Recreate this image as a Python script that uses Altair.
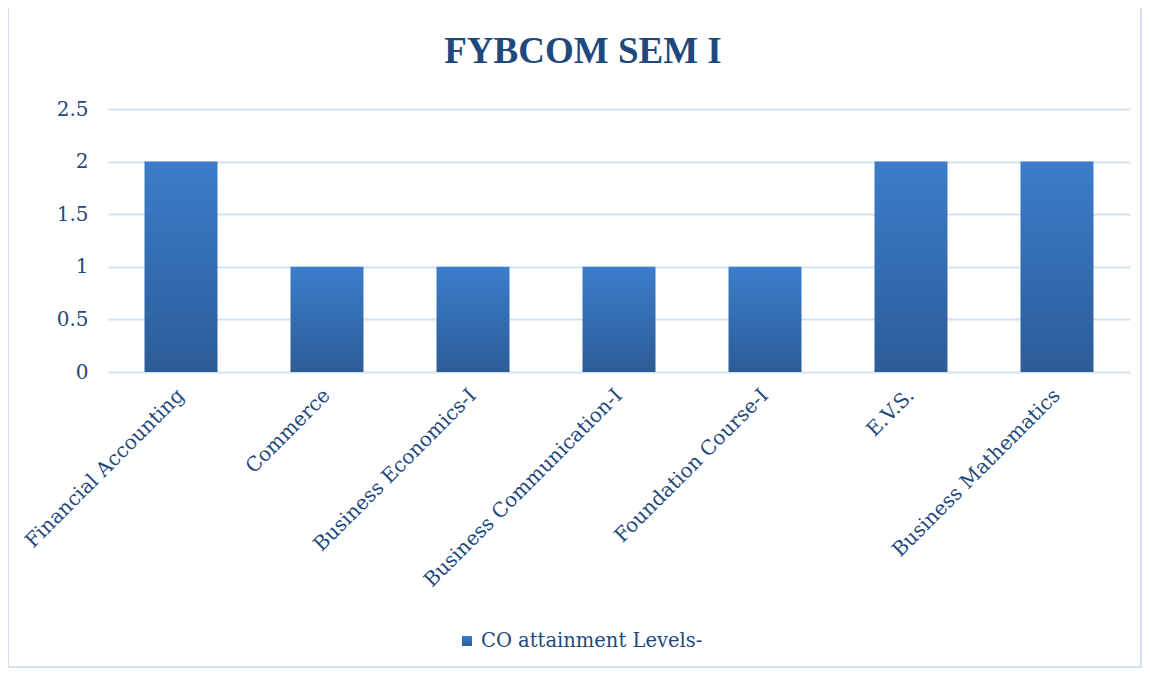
import altair as alt
import pandas as pd

subjects = ["Financial Accounting", "Commerce", "Business Economics-I",
            "Business Communication-I", "Foundation Course-I", "E.V.S.",
            "Business Mathematics"]
levels = [2, 1, 1, 1, 1, 2, 2]
series_name = "CO attainment Levels-"
title_text = "FYBCOM SEM I"
y_ticks = [0, 0.5, 1, 1.5, 2, 2.5]

df = pd.DataFrame({"subject": subjects, "level": levels})

W, H = 1022, 263
TXT = "#1f497d"
FONT = "DejaVu Serif"

grad = alt.Gradient(
    gradient="linear",
    stops=[alt.GradientStop(color="#3b7dca", offset=0),
           alt.GradientStop(color="#2c5c98", offset=1)],
    x1=0, x2=0, y1=0, y2=1,
)

base = alt.Chart(df)

bars = base.mark_bar(fill=grad).encode(
    x=alt.X("subject:N", sort=subjects,
            scale=alt.Scale(paddingInner=0.5, paddingOuter=0.25),
            axis=alt.Axis(title=None, labelAngle=-45, labelAlign="right",
                          labelBaseline="middle", labelPadding=20,
                          labelFont=FONT, labelFontSize=20, labelColor=TXT,
                          ticks=False, domain=False, grid=False,
                          labelLimit=400)),
    y=alt.Y("level:Q", scale=alt.Scale(domain=[0, 2.5]),
            axis=alt.Axis(title=None, values=y_ticks, format="~g",
                          labelFont=FONT,
                          labelFontSize=20, labelColor=TXT, labelPadding=20,
                          ticks=False, domain=False, grid=True,
                          gridColor="#d6e2f2", gridWidth=2)),
)

title_df = pd.DataFrame({"t": [title_text]})
title = alt.Chart(title_df).mark_text(
    font="Liberation Serif", fontSize=37, fontWeight="bold", color=TXT,
    align="center", baseline="middle",
).encode(text="t:N", x=alt.value(475), y=alt.value(-57))

leg_df = pd.DataFrame({"t": [series_name]})
leg_sq = alt.Chart(leg_df).mark_square(size=100, fill=grad, opacity=1).encode(
    x=alt.value(359), y=alt.value(532))
leg_txt = alt.Chart(leg_df).mark_text(
    font=FONT, fontSize=19.5, color=TXT, align="left", baseline="middle",
).encode(text="t:N", x=alt.value(373), y=alt.value(532))

border = alt.Chart(leg_df).mark_rect(
    fill="transparent", stroke="#d6e2f2", strokeWidth=2
).encode(x=alt.value(-100), x2=alt.value(1033),
         y=alt.value(-103), y2=alt.value(558))

chart = alt.layer(border, bars, title, leg_sq, leg_txt).properties(
    width=W, height=H,
    autosize=alt.AutoSizeParams(type="none"),
    padding={"left": 100, "top": 101, "right": 12, "bottom": 296},
).configure(background="white").configure_view(stroke=None)

chart.save("out.html", embed_options={"renderer": "svg", "actions": False})
